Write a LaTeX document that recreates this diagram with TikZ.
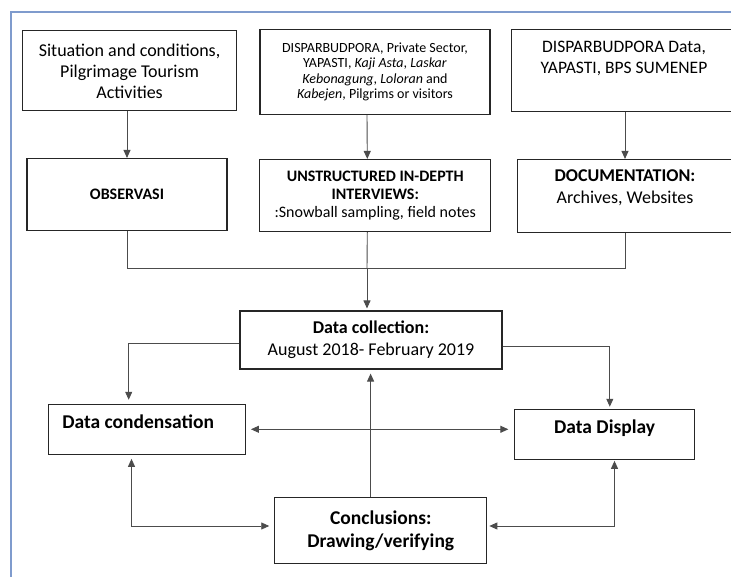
\documentclass[tikz,border=0pt]{standalone}
\usepackage{fontspec}
\setmainfont{Carlito}
\usepackage{tikz}
\usetikzlibrary{arrows.meta}
\definecolor{framecol}{RGB}{127,155,205}

\begin{document}
\begin{tikzpicture}[x=1pt, y=-1pt,
							boxnode/.style={rectangle, draw=black!85, line width=1.1pt, fill=white, align=center, inner sep=2pt},
							line/.style={draw=black!70, line width=0.9pt},
							conn/.style={line, -{Triangle[length=8pt,width=7pt]}},
							twoway/.style={line, {Triangle[length=8pt,width=7pt]}-{Triangle[length=8pt,width=7pt]}},
							]
							\clip (0,0) rectangle (731,577);
							\fill[white] (0,0) rectangle (731,577);
							\draw[framecol, line width=1.5pt] (11,580) -- (11,12) -- (735,12);
							%Nodes
							\node[boxnode, minimum width=214pt, minimum height=80pt, font=\fontsize{18}{21}\selectfont]      (sit)   at (129.6,70.9)  {Situation and conditions,\\Pilgrimage Tourism\\Activities};
							\node[boxnode, minimum width=230pt, minimum height=85pt, font=\fontsize{14}{15.6}\selectfont]    (inf)   at (375,71.8)    {DISPARBUDPORA, Private Sector,\\YAPASTI, \textit{Kaji Asta}, \textit{Laskar}\\\textit{Kebonagung}, \textit{Loloran} and\\\textit{Kabejen}, Pilgrims or visitors};
							\node[boxnode, minimum width=225pt, minimum height=82pt, text depth=26pt, font=\fontsize{17.5}{21.5}\selectfont] (src) at (624,70.2) {DISPARBUDPORA Data,\\YAPASTI, BPS SUMENEP};
							\node[boxnode, minimum width=200pt, minimum height=72pt, font=\bfseries\fontsize{16}{18}\selectfont]     (obs)   at (127,194.5)   {OBSERVASI};
							\node[boxnode, minimum width=231pt, minimum height=72pt, font=\fontsize{16}{18}\selectfont]    (intv)  at (375.3,195.5) {\textbf{UNSTRUCTURED IN-DEPTH}\\\textbf{INTERVIEWS:}\\:Snowball sampling, field notes};
							\node[boxnode, minimum width=215pt, minimum height=73pt, text depth=18.6pt, font=\fontsize{18}{21.7}\selectfont] (doc) at (625,196) {\textbf{DOCUMENTATION:}\\Archives, Websites};
							\node[boxnode, minimum width=262pt, minimum height=58pt, font=\fontsize{18}{21.7}\selectfont]    (coll)  at (371,340)     {\textbf{Data collection:}\\August 2018- February 2019};
							\node[boxnode, minimum width=197pt, minimum height=50pt, text width=170pt, align=flush left, inner xsep=13pt, text height=14pt, text depth=16pt, font=\bfseries\fontsize{19.5}{22.7}\selectfont] (cond) at (147.3,429.3) {Data condensation};
							\node[boxnode, minimum width=180pt, minimum height=50pt, text height=14pt, text depth=16pt, font=\bfseries\fontsize{19.5}{22.7}\selectfont] (disp) at (604.6,434.3) {Data Display};
							\node[boxnode, minimum width=212pt, minimum height=66pt, font=\bfseries\fontsize{19.5}{22.7}\selectfont]  (concl) at (380.8,530.8) {Conclusions:\\Drawing/verifying};
							\coordinate (merge) at (367,268.7);

							%Connectors
							\draw[conn] (obs.north |- sit.south) -- (obs.north);
							\draw[conn] ([xshift=-8pt]inf.south) -- ([xshift=-8pt]intv.north);
							\draw[conn] (doc.north |- src.south) -- (doc.north);
							\draw[line] (obs.south) |- (merge) -| (doc.south);
							\draw[line] ([xshift=-8pt]intv.south) -- (merge);
							\draw[conn, shorten >=2pt] (merge) -- (merge |- coll.north);
							\draw[conn, shorten >=4pt] ([yshift=-3pt]coll.west) -| ([xshift=-18.6pt]cond.north);
							\draw[conn, shorten >=2pt] ([yshift=-6.7pt]coll.east) -| ([xshift=5.2pt]disp.north);
							\draw[twoway, shorten <=4.6pt, shorten >=5.7pt] (cond.east) -- (cond.east -| disp.west);
							\draw[conn, shorten >=4pt] ([xshift=-10.2pt]concl.north) -- ([xshift=-10.2pt]concl.north |- coll.south);
							\draw[twoway, shorten <=4pt, shorten >=5pt] ([xshift=-15.8pt]cond.south) |- ([yshift=4.8pt]concl.west);
							\draw[twoway, shorten <=2pt, shorten >=1pt] ([yshift=4.8pt]concl.east) -| ([xshift=9.9pt]disp.south);
\end{tikzpicture}
\end{document}
